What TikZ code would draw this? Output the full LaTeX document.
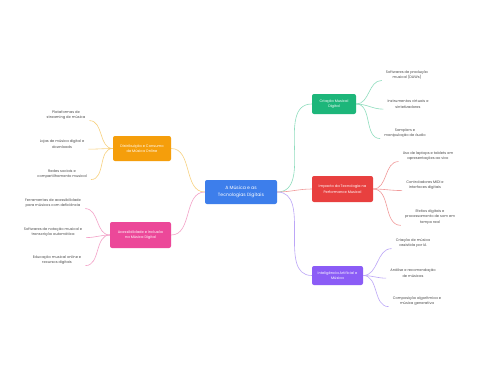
\documentclass[tikz,border=0pt]{standalone}
\usepackage{fontspec}
\setmainfont{Poppins}
\definecolor{cblue}{HTML}{3D7EEB}
\definecolor{cgreen}{HTML}{1DB67A}
\definecolor{cred}{HTML}{E8403F}
\definecolor{cpurple}{HTML}{8B5CF6}
\definecolor{corange}{HTML}{F59E0B}
\definecolor{cpink}{HTML}{EC4899}
\definecolor{lgreen}{HTML}{8FDDBE}
\definecolor{lred}{HTML}{F19A9A}
\definecolor{lpurple}{HTML}{BCA6F7}
\definecolor{lorange}{HTML}{F8D17F}
\definecolor{lpink}{HTML}{F3A2C8}
\definecolor{leaftext}{HTML}{4A4A4A}
\tikzset{
  centerbox/.style={fill=cblue, rounded corners=2pt, text=white, align=center,
    font=\fontsize{4.6}{6.6}\selectfont, minimum width=72pt, minimum height=24pt, inner sep=1pt},
  branchbox/.style={fill=#1, rounded corners=2pt, text=white, align=center,
    font=\fontsize{3.6}{5.5}\selectfont, inner sep=1pt},
  leafnode/.style={text=leaftext, align=center, font=\fontsize{3.6}{5.5}\selectfont,
    inner xsep=4pt, inner ysep=0.8pt},
  conn/.style={draw=#1, line width=0.6pt},
}
\begin{document}
\begin{tikzpicture}[x=1pt,y=-1pt]
\useasboundingbox[fill=white] (0,0) rectangle (480,384);
% center
\node[centerbox] (c) at (241,192) {A Música e as\\Tecnologias Digitais};
% branches
\node[branchbox=cgreen, minimum width=44pt, minimum height=20pt] (g) at (334,104) {Criação Musical\\Digital};
\node[branchbox=cred, minimum width=61pt, minimum height=26pt] (r) at (342.5,189) {Impacto da Tecnologia na\\Performance Musical};
\node[branchbox=cpurple, minimum width=51pt, minimum height=19pt] (p) at (337.5,275.5) {Inteligência Artificial e\\Música};
\node[branchbox=corange, minimum width=58pt, minimum height=25pt] (o) at (142,148.5) {Distribuição e Consumo\\de Música Online};
\node[branchbox=cpink, minimum width=61pt, minimum height=26pt] (k) at (140.5,235) {Acessibilidade e Inclusão\\na Música Digital};
% leaves right
\node[leafnode] (g1) at (407,75) {Softwares de produção\\musical (DAWs)};
\node[leafnode] (g2) at (408,104) {Instrumentos virtuais e\\sintetizadores};
\node[leafnode] (g3) at (405,133) {Samplers e\\manipulação de áudio};
\node[leafnode] (r1) at (428,156) {Uso de laptops e tablets em\\apresentações ao vivo};
\node[leafnode] (r2) at (425,185) {Controladores MIDI e\\interfaces digitais};
\node[leafnode] (r3) at (430,217) {Efeitos digitais e\\processamento de som em\\tempo real};
\node[leafnode] (p1) at (413,243) {Criação de música\\assistida por IA};
\node[leafnode] (p2) at (413,273) {Análise e recomendação\\de músicas};
\node[leafnode] (p3) at (417,301) {Composição algorítmica e\\música generativa};
% leaves left
\node[leafnode] (o1) at (66,115) {Plataformas de\\streaming de música};
\node[leafnode] (o2) at (62,144) {Lojas de música digital e\\downloads};
\node[leafnode] (o3) at (62,174) {Redes sociais e\\compartilhamento musical};
\node[leafnode] (k1) at (53,203) {Ferramentas de acessibilidade\\para músicos com deficiência};
\node[leafnode] (k2) at (53,232) {Softwares de notação musical e\\transcrição automática};
\node[leafnode] (k3) at (57,260) {Educação musical online e\\recursos digitais};
% center connectors
\draw[conn=lgreen] (c.east) to[out=0,in=180] (g.west);
\draw[conn=lred] (c.east) to[out=0,in=180] (r.west);
\draw[conn=lpurple] (c.east) to[out=0,in=180] (p.west);
\draw[conn=lorange] (c.west) to[out=180,in=0] (o.east);
\draw[conn=lpink] (c.west) to[out=180,in=0] (k.east);
% branch connectors
\foreach \l in {g1,g2,g3}{\draw[conn=lgreen] (g.east) to[out=0,in=180] (\l.south west);}
\foreach \l in {r1,r2,r3}{\draw[conn=lred] (r.east) to[out=0,in=180] (\l.south west);}
\foreach \l in {p1,p2,p3}{\draw[conn=lpurple] (p.east) to[out=0,in=180] (\l.south west);}
\foreach \l in {o1,o2,o3}{\draw[conn=lorange] (o.west) to[out=180,in=0] (\l.south east);}
\foreach \l in {k1,k2,k3}{\draw[conn=lpink] (k.west) to[out=180,in=0] (\l.south east);}
\end{tikzpicture}
\end{document}
